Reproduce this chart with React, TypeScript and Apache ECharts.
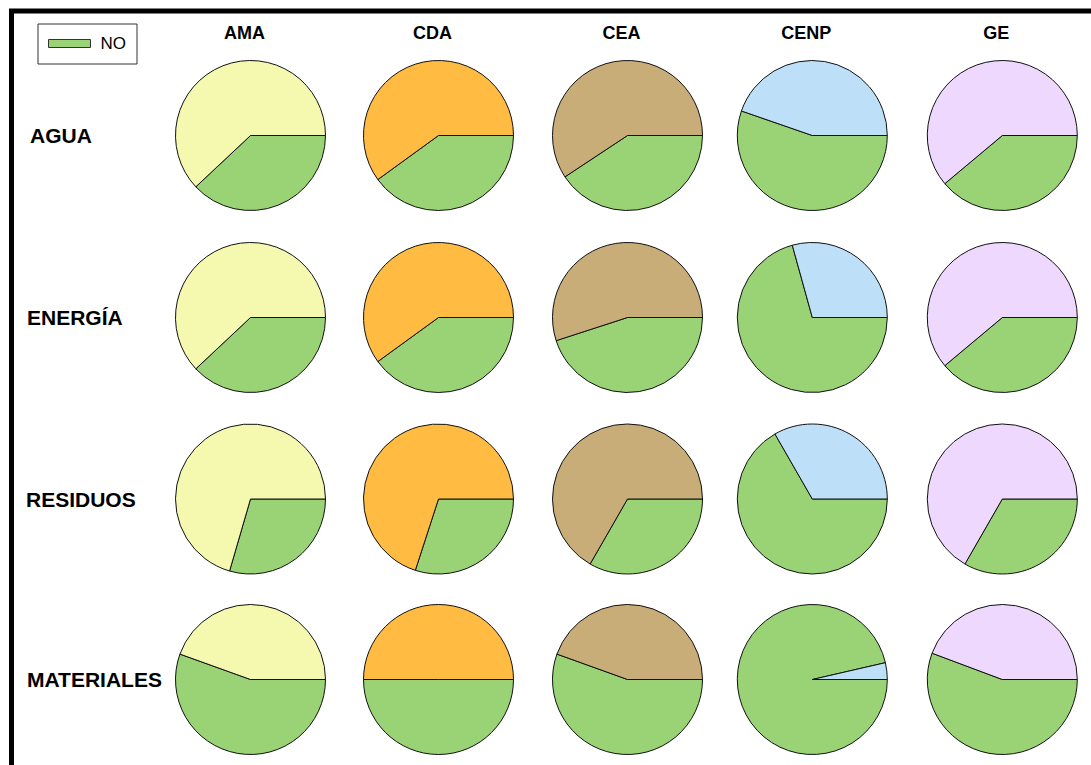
import React, { useEffect, useRef } from "react";
import * as echarts from "echarts";

const columns = ["AMA", "CDA", "CEA", "CENP", "GE"];
const rows = ["AGUA", "ENERGÍA", "RESIDUOS", "MATERIALES"];

// Share (%) of "NO" answers, per row, one value per column
const noAgua = [38, 40, 40.7, 55.3, 38.9];
const noEnergia = [38, 40, 45, 70.7, 38.9];
const noResiduos = [29.5, 30, 33.3, 66.7, 33.3];
const noMateriales = [55.5, 50, 55.5, 96.4, 55.7];

// Share (%) of the remaining answers, per row, one value per column
const siAgua = [62, 60, 59.3, 44.7, 61.1];
const siEnergia = [62, 60, 55, 29.3, 61.1];
const siResiduos = [70.5, 70, 66.7, 33.3, 66.7];
const siMateriales = [44.5, 50, 44.5, 3.6, 44.3];

const noRows = [noAgua, noEnergia, noResiduos, noMateriales];
const siRows = [siAgua, siEnergia, siResiduos, siMateriales];

const NO_COLOR = "#9AD376";
const columnColors = ["#F5F9B0", "#FFBB42", "#C8AD78", "#BDE0F8", "#EFD8FE"];

// layout
const colX = [250.5, 438.5, 627.5, 812.3, 1002.3];
const rowY = [135.5, 317.5, 499, 679.5];
const rowLabelX = [30, 27, 26, 27];
const RADIUS = 75;
const FONT = '"Liberation Sans", Arial, sans-serif';

export default function App() {
  const ref = useRef<HTMLDivElement>(null);

  useEffect(() => {
    if (!ref.current) return;
    const chart = echarts.init(ref.current, null, { renderer: "svg" });

    const series: any[] = [];
    rows.forEach((r, ri) => {
      columns.forEach((c, ci) => {
        series.push({
          type: "pie",
          name: r + " - " + c,
          center: [colX[ci], rowY[ri]],
          radius: RADIUS,
          startAngle: 0,
          clockwise: true,
          label: { show: false },
          labelLine: { show: false },
          emphasis: { disabled: true },
          itemStyle: { borderColor: "#111", borderWidth: 1 },
          data: [
            { name: "NO", value: noRows[ri][ci], itemStyle: { color: NO_COLOR } },
            { name: "SÍ", value: siRows[ri][ci], itemStyle: { color: columnColors[ci] } },
          ],
        });
      });
    });

    const graphics: any[] = [
      {
        type: "rect",
        shape: { x: 11.5, y: 11, width: 1400, height: 1000 },
        style: { fill: "none", stroke: "#000", lineWidth: 5 },
        silent: true,
      },
    ];
    columns.forEach((c, ci) => {
      graphics.push({
        type: "text",
        x: colX[ci] - 6,
        y: 33,
        style: {
          text: c,
          fontSize: 18,
          fontWeight: "bold",
          fontFamily: FONT,
          fill: "#000",
          align: "center",
          verticalAlign: "middle",
        },
      });
    });
    rows.forEach((r, ri) => {
      graphics.push({
        type: "text",
        x: rowLabelX[ri],
        y: rowY[ri],
        style: {
          text: r,
          fontSize: 21,
          fontWeight: "bold",
          fontFamily: FONT,
          fill: "#000",
          align: "left",
          verticalAlign: "middle",
        },
      });
    });

    chart.setOption({
      animation: false,
      backgroundColor: "#fff",
      legend: {
        data: ["NO"],
        left: 38,
        top: 24,
        padding: [11, 11, 12, 10],
        borderColor: "#333",
        borderWidth: 1,
        itemWidth: 42,
        itemHeight: 8,
        icon: "rect",
        selectedMode: false,
        itemStyle: { borderColor: "#333", borderWidth: 1 },
        textStyle: { fontSize: 17, color: "#000", fontFamily: FONT, padding: [0, 0, 0, 5] },
      },
      graphic: graphics,
      series,
    });

    return () => chart.dispose();
  }, []);

  return (
    <div
      ref={ref}
      style={{ position: "fixed", left: 0, top: 0, width: 1091, height: 765 }}
    />
  );
}
